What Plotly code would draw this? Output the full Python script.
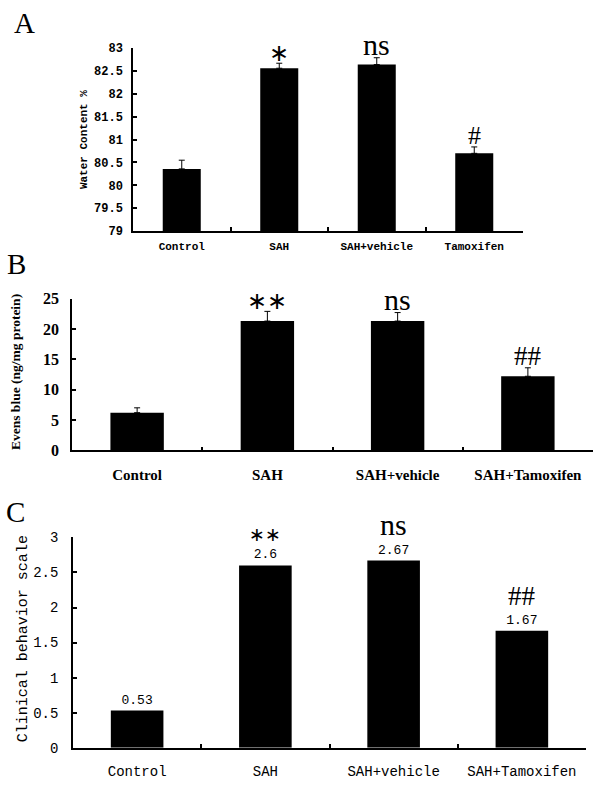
import plotly.graph_objects as go

W, H = 600, 792

# ---- data ----
cats_a = ["Control", "SAH", "SAH+vehicle", "Tamoxifen"]
water_content = [80.36, 82.56, 82.64, 80.70]
water_err = [0.19, 0.11, 0.15, 0.14]
sig_a = ["", "∗", "ns", "#"]

cats_b = ["Control", "SAH", "SAH+vehicle", "SAH+Tamoxifen"]
evans_blue = [6.2, 21.3, 21.3, 12.2]
evans_err = [0.8, 1.6, 1.4, 1.4]
sig_b = ["", "∗∗", "ns", "##"]

cats_c = ["Control", "SAH", "SAH+vehicle", "SAH+Tamoxifen"]
clinical = [0.53, 2.6, 2.67, 1.67]
clinical_labels = ["0.53", "2.6", "2.67", "1.67"]
sig_c = ["", "∗∗", "ns", "##"]


def px_x(p):
    return p / W


def px_y(p):
    return 1 - p / H


fig = go.Figure()

MONO = "Liberation Mono"
SERIF = "Liberation Serif"
SANS = "DejaVu Sans"

fig.add_trace(go.Bar(
    x=cats_a, y=water_content, xaxis="x", yaxis="y", width=0.39,
    marker=dict(color="black", line=dict(width=0)),
    error_y=dict(type="data", array=water_err, arrayminus=[0] * 4, symmetric=False,
                 color="black", thickness=1, width=3),
    showlegend=False,
))
fig.add_trace(go.Bar(
    x=cats_b, y=evans_blue, xaxis="x2", yaxis="y2", width=0.41,
    marker=dict(color="black", line=dict(width=0)),
    error_y=dict(type="data", array=evans_err, arrayminus=[0] * 4, symmetric=False,
                 color="black", thickness=1, width=3),
    showlegend=False,
))
fig.add_trace(go.Bar(
    x=cats_c, y=clinical, xaxis="x3", yaxis="y3", width=0.41,
    marker=dict(color="black", line=dict(width=0)),
    text=clinical_labels, textposition="outside", cliponaxis=False,
    textfont=dict(family=MONO, size=13, color="black"),
    showlegend=False,
))

axis_common = dict(showline=True, linecolor="black", linewidth=1.5, showgrid=False,
                   zeroline=False, ticks="inside", ticklen=4, tickcolor="black",
                   tickwidth=1.5)

fig.update_layout(
    width=W, height=H, margin=dict(l=0, r=0, t=0, b=0),
    paper_bgcolor="white", plot_bgcolor="white",
    xaxis=dict(axis_common, domain=[px_x(133), px_x(523)], anchor="y", type="category",
               range=[-0.5, 3.5], tickson="boundaries", ticklabelstandoff=4,
               tickfont=dict(family=MONO, size=11, color="black", weight="bold")),
    yaxis=dict(axis_common, domain=[px_y(228), px_y(41)], anchor="x", range=[79, 83],
               dtick=0.5, ticklabelstandoff=6,
               tickfont=dict(family=MONO, size=12, color="black", weight="bold")),
    xaxis2=dict(axis_common, domain=[px_x(72), px_x(593)], anchor="y2", type="category",
                range=[-0.5, 3.5], tickson="boundaries", ticklabelstandoff=10,
                tickfont=dict(family=SERIF, size=15, color="black", weight="bold")),
    yaxis2=dict(axis_common, domain=[px_y(452), px_y(297)], anchor="x2", range=[0, 25],
                dtick=5, ticklabelstandoff=8,
                tickfont=dict(family=SERIF, size=16, color="black", weight="bold")),
    xaxis3=dict(axis_common, domain=[px_x(73), px_x(586)], anchor="y3", type="category",
                range=[-0.5, 3.5], tickson="boundaries", ticklabelstandoff=10,
                tickfont=dict(family=MONO, size=14, color="black")),
    yaxis3=dict(axis_common, domain=[px_y(756), px_y(541)], anchor="x3", range=[0, 3],
                dtick=0.5, ticklabelstandoff=10,
                tickfont=dict(family=MONO, size=14, color="black")),
)

anns = []
for letter, xx, yy in [("A", 24, 15), ("B", 16, 262), ("C", 15, 515)]:
    anns.append(dict(text=letter, xref="paper", yref="paper", x=px_x(xx), y=px_y(yy),
                     xanchor="center", yanchor="middle",
                     showarrow=False, font=dict(family=SERIF, size=29, color="black")))
anns.append(dict(text="Water Content %", xref="paper", yref="paper", x=px_x(84),
                 y=px_y(135), textangle=-90, showarrow=False,
                 xanchor="center", yanchor="middle",
                 font=dict(family=MONO, size=11, color="black", weight="bold")))
anns.append(dict(text="Evens blue (ng/mg protein)", xref="paper", yref="paper",
                 x=px_x(15), y=px_y(372), textangle=-90, showarrow=False,
                 xanchor="center", yanchor="middle",
                 font=dict(family=SERIF, size=13.5, color="black", weight="bold")))
anns.append(dict(text="Clinical behavior scale", xref="paper", yref="paper",
                 x=px_x(23), y=px_y(645), textangle=-90, showarrow=False,
                 xanchor="center", yanchor="middle",
                 font=dict(family=MONO, size=15, color="black")))


def sig_style(s):
    return SANS if "∗" in s else SERIF


for c, v, e, s in zip(cats_a, water_content, water_err, sig_a):
    if s:
        size = {"∗": 24, "ns": 30, "#": 26}[s]
        shift = {"∗": -6, "ns": -5, "#": -5}[s]
        anns.append(dict(text=s, x=c, y=v + e, xref="x", yref="y", yanchor="bottom",
                         showarrow=False, yshift=shift,
                         font=dict(family=sig_style(s), size=size, color="black")))
for c, v, e, s in zip(cats_b, evans_blue, evans_err, sig_b):
    if s:
        size = {"∗∗": 24, "ns": 30, "##": 27}[s]
        shift = {"∗∗": -6, "ns": -5, "##": -5}[s]
        anns.append(dict(text=s, x=c, y=v + e, xref="x2", yref="y2", yanchor="bottom",
                         showarrow=False, yshift=shift,
                         font=dict(family=sig_style(s), size=size, color="black")))
for c, v, s in zip(cats_c, clinical, sig_c):
    if s:
        size = {"∗∗": 19, "ns": 30, "##": 27}[s]
        anns.append(dict(text=s, x=c, y=v, xref="x3", yref="y3", yanchor="bottom",
                         showarrow=False, yshift=18,
                         font=dict(family=sig_style(s), size=size, color="black")))

fig.update_layout(annotations=anns)
fig.write_html(
    "out.html",
    config={"displayModeBar": False},
    post_script=(
        "document.documentElement.style.margin='0';"
        "document.documentElement.style.overflow='hidden';"
        "document.body.style.margin='0';"
        "document.body.style.overflow='hidden';"
        "var gd=document.getElementById('{plot_id}');"
        "gd.style.position='fixed';gd.style.top='0px';gd.style.left='0px';"
    ),
)
